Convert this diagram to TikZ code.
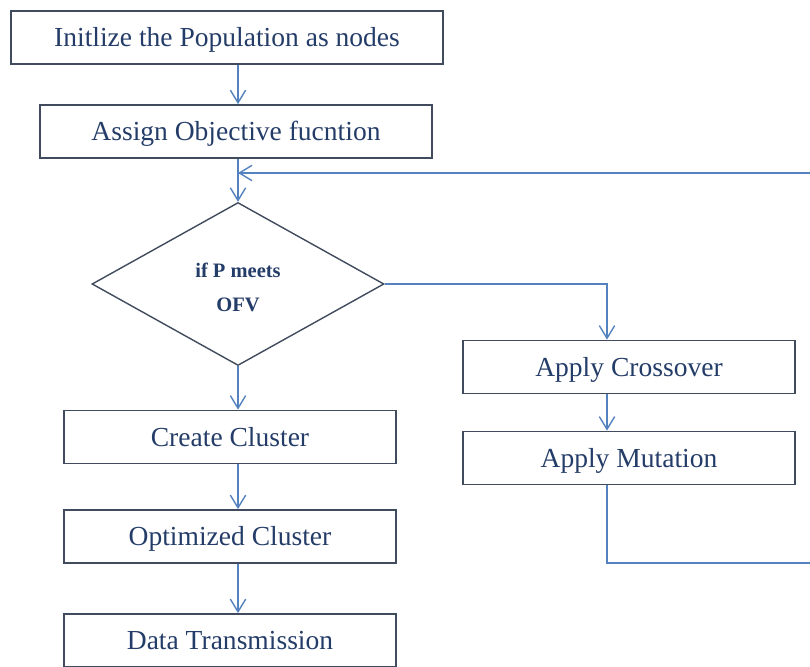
\documentclass[tikz,border=0pt]{standalone}
\usepackage{fontspec}
\setmainfont{Liberation Serif}
\usetikzlibrary{shapes.geometric,arrows.meta}
\definecolor{boxgray}{RGB}{64,76,94}
\definecolor{txtblue}{RGB}{36,60,104}
\definecolor{arrblue}{RGB}{84,130,190}

\begin{document}
\begin{tikzpicture}[x=0.03cm,y=-0.03cm,line width=1.2pt]
          \tikzstyle{every node}=[font=\fontsize{23.5}{28}\selectfont,text=txtblue]
          \tikzstyle{stepbox}=[draw=boxgray,rectangle,inner sep=0pt,minimum height=1.6cm,text height=20pt,text depth=4pt]
          \tikzstyle{flow}=[draw=arrblue,-{Straight Barb[length=3.8mm,width=4.6mm]}]
          \useasboundingbox (0,0) rectangle (810,666);

            \node[stepbox,minimum width=12.96cm] (init) at (227,37.5) {Initlize the Population as nodes};
            \node[stepbox,minimum width=11.76cm] (assign) at (236,131.5) {Assign Objective fucntion};
            \node[draw=boxgray,diamond,inner sep=0pt,minimum width=8.76cm,minimum height=4.89cm,
                  align=center,font=\bfseries\fontsize{17.5}{29}\selectfont] (dec) at (238,284) {\\[-10pt]if P meets\\OFV};
            \node[stepbox,minimum width=9.96cm] (co) at (629,367) {Apply Crossover};
            \node[stepbox,minimum width=9.96cm] (mu) at (629,458) {Apply Mutation};
            \node[stepbox,minimum width=9.96cm] (cc) at (230,437) {Create Cluster};
            \node[stepbox,minimum width=9.96cm] (oc) at (230,536.5) {Optimized Cluster};
            \node[stepbox,minimum width=9.96cm] (dt) at (230,640.5) {Data Transmission};
            \coordinate (rx) at (607,0);
            \coordinate (lp) at (818,563);
            \coordinate (fb) at (818,173);

            \draw[flow] (init.south -| dec.north) -- (assign.north -| dec.north);
            \draw[flow] (assign.south -| dec.north) -- (dec.north);
            \draw[flow] (dec.south) -- (cc.north -| dec.south);
            \draw[flow] (cc.south -| dec.south) -- (oc.north -| dec.south);
            \draw[flow] (oc.south -| dec.south) -- (dt.north -| dec.south);
            \draw[flow] (dec.east) -| (co.north -| rx);
            \draw[flow] (co.south -| rx) -- (mu.north -| rx);
            % loop back
            \draw[flow] (mu.south -| rx) |- (lp) -- (fb) -- (fb -| dec.north);
        \end{tikzpicture}
\end{document}
